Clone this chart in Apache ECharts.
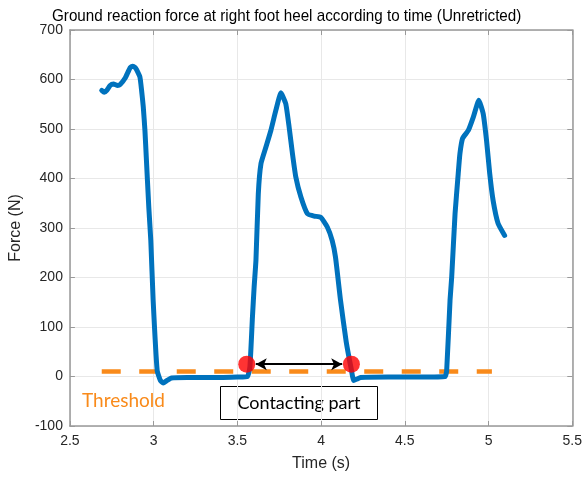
<!DOCTYPE html>
<html>
<head>
<meta charset="utf-8">
<script src="https://cdn.jsdelivr.net/npm/echarts@6/dist/echarts.min.js"></script>
<style>
  html, body { margin: 0; padding: 0; background: #fff; }
  #chart { width: 585px; height: 477px; }
</style>
</head>
<body>
<div id="chart"></div>
<script>
// Heel ground reaction force samples (time in s, force in N)
const time = [2.69, 2.705, 2.72, 2.74, 2.76, 2.785, 2.80, 2.83, 2.86, 2.875, 2.89, 2.898, 2.918, 2.928,
  2.938, 2.948, 2.956, 2.971, 2.983, 2.997, 3.021, 3.04, 3.057, 3.08, 3.106, 3.2, 3.3, 3.4, 3.5, 3.56,
  3.575, 3.59, 3.60, 3.611, 3.625, 3.641, 3.671, 3.70, 3.73, 3.76, 3.789, 3.809, 3.829, 3.849, 3.879,
  3.918, 3.958, 3.997, 4.037, 4.066, 4.086, 4.116, 4.15, 4.18, 4.195, 4.215, 4.235, 4.4, 4.6, 4.74,
  4.75, 4.77, 4.78, 4.80, 4.819, 4.829, 4.845, 4.879, 4.909, 4.942, 4.968, 4.988, 5.007, 5.027, 5.057,
  5.096];
const force = [578, 574, 578, 588, 591, 588, 590, 603, 624, 627, 624, 620, 605, 578,
  545, 497, 443, 342, 275, 154, 12, -8, -13, -8, -3, -2, -2, -2, -1, 0,
  20, 120, 180, 235, 369, 430, 464, 497, 538, 573, 551, 504, 450, 403, 363,
  329, 324, 322, 302, 275, 241, 154, 70, 15, -8, -5, -2, -1, -1, 0,
  12, 154, 201, 329, 410, 450, 481, 497, 524, 558, 531, 477, 410, 356, 309,
  285];

// Contact threshold level and its drawn span
const thresholdValue = 10;
const thresholdSpan = [2.69, 5.02];

// Threshold crossings that bound the contacting part
const crossTime = [3.556, 4.181];
const crossForce = [25, 25];
const arrowSpan = [3.61, 4.126];

// Axis ticks
const xTicks = { min: 2.5, max: 5.5, step: 0.5 };
const yTicks = { min: -100, max: 700, step: 100 };

const BLUE = '#0072BD';
const ORANGE = '#F98A1A';
const AXIS = '#999999';
const GRIDLINE = '#e8e8e8';
const LABEL = '#262626';

const chart = echarts.init(document.getElementById('chart'), null, { renderer: 'canvas' });

const axisCommon = {
  type: 'value',
  axisLine: { show: true, onZero: false, lineStyle: { color: AXIS, width: 1.5 } },
  axisTick: { show: true, inside: true, length: 5, lineStyle: { color: AXIS } },
  splitLine: { show: false }
};

chart.setOption({
  animation: false,
  backgroundColor: '#ffffff',
  grid: { left: 68, right: 12, top: 30, bottom: 51, containLabel: false },
  xAxis: [
    Object.assign({}, axisCommon, {
      position: 'bottom', min: xTicks.min, max: xTicks.max, interval: xTicks.step,
      name: 'Time (s)', nameLocation: 'middle', nameGap: 30,
      nameTextStyle: { fontFamily: 'Liberation Sans', fontSize: 16, color: LABEL },
      axisLabel: { fontFamily: 'Liberation Sans', fontSize: 14, color: LABEL, margin: 8 },
      splitLine: { show: true, lineStyle: { color: GRIDLINE, width: 1 } }
    }),
    Object.assign({}, axisCommon, {
      position: 'top', min: xTicks.min, max: xTicks.max, interval: xTicks.step,
      axisLabel: { show: false }
    })
  ],
  yAxis: [
    Object.assign({}, axisCommon, {
      position: 'left', min: yTicks.min, max: yTicks.max, interval: yTicks.step,
      name: 'Force (N)', nameLocation: 'middle', nameGap: 42,
      nameTextStyle: { fontFamily: 'Liberation Sans', fontSize: 16, color: LABEL },
      axisLabel: { fontFamily: 'Liberation Sans', fontSize: 14, color: LABEL, margin: 7 },
      splitLine: { show: true, lineStyle: { color: GRIDLINE, width: 1 } }
    }),
    Object.assign({}, axisCommon, {
      position: 'right', min: yTicks.min, max: yTicks.max, interval: yTicks.step,
      axisLabel: { show: false }
    })
  ],
  series: [
    {
      name: 'Threshold',
      type: 'line',
      data: thresholdSpan.map(t => [t, thresholdValue]),
      symbol: 'none',
      lineStyle: { color: ORANGE, width: 4.5, type: [19, 18.5] },
      z: 2
    },
    {
      name: 'Force',
      type: 'line',
      data: time.map((t, i) => [t, force[i]]),
      symbol: 'none',
      smooth: 0.15,
      lineStyle: { color: BLUE, width: 5, cap: 'round', join: 'round' },
      z: 3
    },
    {
      name: 'Crossings',
      type: 'scatter',
      data: crossTime.map((t, i) => [t, crossForce[i]]),
      symbol: 'circle',
      symbolSize: 17,
      itemStyle: { color: '#ff0000' },
      z: 5,
      markLine: {
        silent: true,
        symbol: ['arrow', 'arrow'],
        symbolSize: [9, 11],
        label: { show: false },
        lineStyle: { color: '#000', width: 2, type: 'solid' },
        data: [[
          { coord: [arrowSpan[0], crossForce[0]] },
          { coord: [arrowSpan[1], crossForce[1]] }
        ]]
      }
    }
  ],
  graphic: [
    {
      // chart title, set in a slightly condensed face
      type: 'text', x: 52, y: 16.5, scaleX: 0.895, originX: 0,
      style: {
        text: 'Ground reaction force at right foot heel according to time (Unretricted)',
        fill: '#000', font: '17px "Liberation Sans"', verticalAlign: 'middle'
      }
    },
    {
      type: 'text', left: 82, top: 391,
      style: { text: 'Threshold', fill: ORANGE, font: '19px Lato' }
    },
    {
      type: 'group', left: 220, top: 386,
      children: [
        { type: 'rect', shape: { x: 0, y: 0, width: 157, height: 33 },
          style: { fill: '#fff', stroke: '#000', lineWidth: 1 } },
        { type: 'text', x: 78.5, y: 16.5,
          style: { text: 'Contacting part', fill: '#000', font: '18px Lato', align: 'center', verticalAlign: 'middle' } }
      ]
    }
  ]
});
</script>
</body>
</html>
